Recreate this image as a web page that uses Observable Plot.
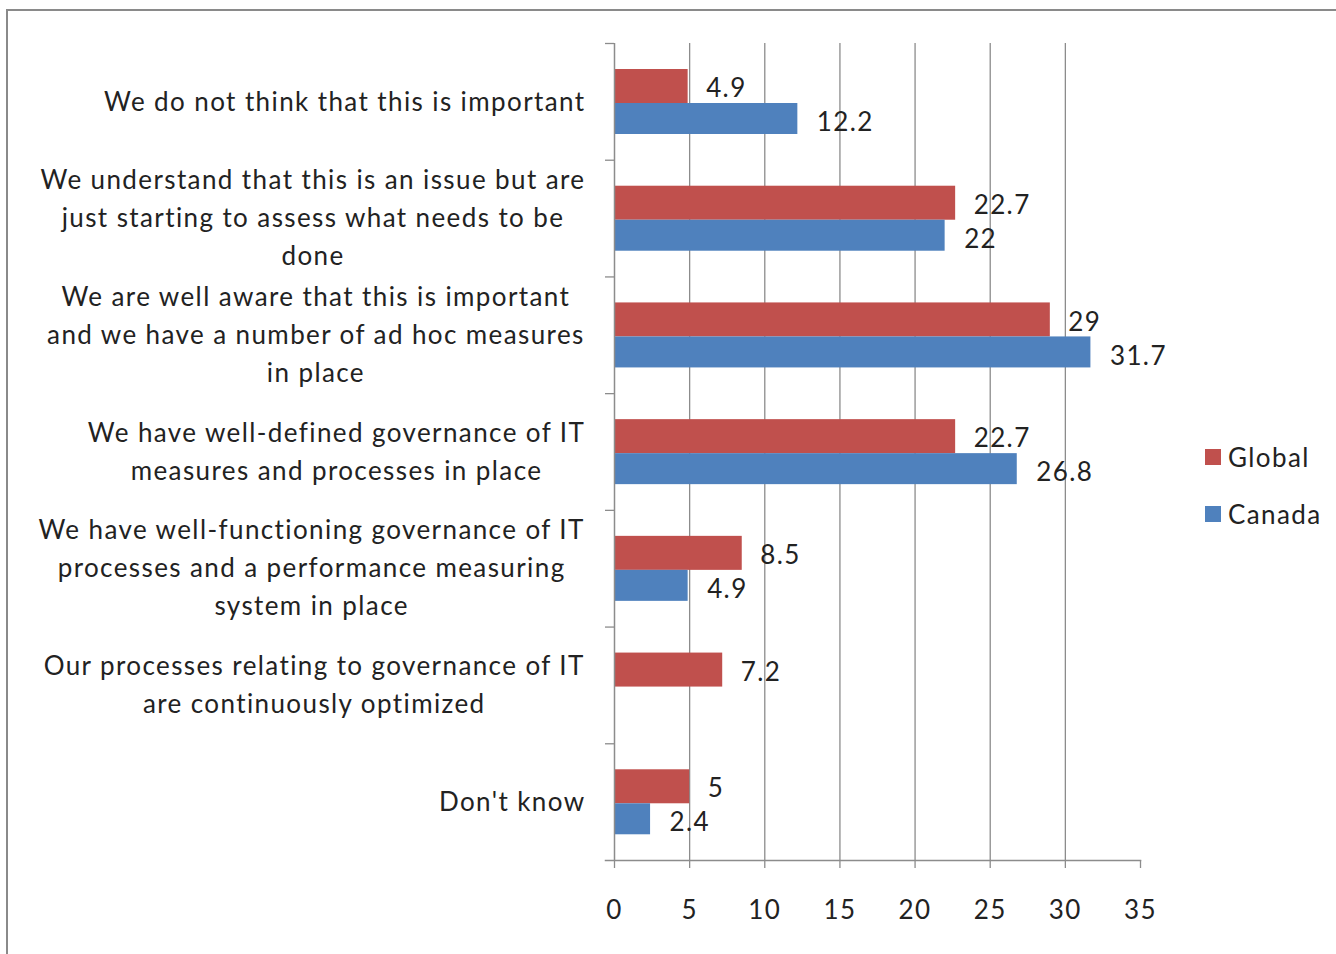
<!DOCTYPE html>
<html>
<head>
<meta charset="utf-8">
<script src="https://cdn.jsdelivr.net/npm/d3@7"></script>
<script src="https://cdn.jsdelivr.net/npm/@observablehq/plot@0.6"></script>
<style>
html, body { margin: 0; padding: 0; background: #fff; overflow: hidden; }
#wrap { position: relative; width: 1336px; height: 954px; overflow: hidden; }
#border { position: absolute; left: 6px; top: 9px; width: 1400px; height: 1000px;
  border-left: 2px solid #8a8a8a; border-top: 2px solid #8a8a8a; box-sizing: border-box; }
#chart { position: absolute; left: 0; top: 0; }
.legend-item { position: absolute; left: 1205px; height: 30px; display: flex; align-items: center;
  font: 26px Lato, sans-serif; letter-spacing: 1.4px; color: #222; }
.legend-item .sw { width: 16px; height: 16px; margin-right: 7px; }
</style>
</head>
<body>
<div id="wrap">
  <div id="border"></div>
  <div id="chart"></div>
</div>
<script>
const categories = [
  "We do not think that this is important",
  "We understand that this is an issue but are\njust starting to assess what needs to be\ndone",
  "We are well aware that this is important\nand we have a number of ad hoc measures\nin place",
  "We have well-defined governance of IT\nmeasures and processes in place",
  "We have well-functioning governance of IT\nprocesses and a performance measuring\nsystem in place",
  "Our processes relating to governance of IT\nare continuously optimized",
  "Don't know"
];
const globalValues = [4.9, 22.7, 29, 22.7, 8.5, 7.2, 5];
const canadaValues = [12.2, 22, 31.7, 26.8, 4.9, null, 2.4];
const xTicks = [0, 5, 10, 15, 20, 25, 30, 35];
const seriesNames = ["Global", "Canada"];
const seriesColors = ["#C0504D", "#4F81BD"];

const rows = categories.map((c, i) => ({ category: c, global: globalValues[i], canada: canadaValues[i] }));
const canadaRows = rows.filter(d => d.canada != null);

const W = 1336, H = 954, mL = 614, mR = 196, mT = 43, mB = 94;
const bw = (H - mT - mB) / categories.length;
const axisColor = "#8c8c8c";
const fs = 26;
const ls = 1.4;

const ctx = document.createElement("canvas").getContext("2d");
ctx.font = fs + "px Lato";
const labelMarks = categories.map(c => {
  const w = Math.max(...c.split("\n").map(l => ctx.measureText(l).width + l.length * ls));
  return Plot.text([c], {
    y: d => d, text: d => d, frameAnchor: "left", dx: -29 - w / 2, dy: -3.5,
    textAnchor: "middle", lineAnchor: "middle", lineHeight: 38 / fs, fontSize: fs, fill: "#222"
  });
});

const chart = Plot.plot({
  width: W, height: H,
  marginLeft: mL, marginRight: mR, marginTop: mT, marginBottom: mB,
  x: { domain: [0, 35], label: null },
  y: { domain: categories, padding: 0, round: false, label: null },
  style: { fontFamily: "Lato, sans-serif", fontSize: fs + "px", letterSpacing: ls + "px", color: "#222", background: "transparent" },
  marks: [
    Plot.gridX(xTicks.filter(t => t > 0 && t < 35), { stroke: axisColor, strokeOpacity: 1, strokeWidth: 1.3 }),
    Plot.barX(rows, { x: "global", y: "category", fill: seriesColors[0], insetTop: 26, insetBottom: bw - 60 }),
    Plot.barX(canadaRows, { x: "canada", y: "category", fill: seriesColors[1], insetTop: 60, insetBottom: bw - 91 }),
    Plot.text(rows, { x: "global", y: "category", text: d => String(d.global), dx: 18, dy: -13,
      textAnchor: "start", lineAnchor: "middle", fontSize: fs, fill: "#222" }),
    Plot.text(canadaRows, { x: "canada", y: "category", text: d => String(d.canada), dx: 19, dy: 21,
      textAnchor: "start", lineAnchor: "middle", fontSize: fs, fill: "#222" }),
    Plot.ruleX([0], { stroke: axisColor, strokeWidth: 1.5 }),
    Plot.frame({ anchor: "bottom", stroke: axisColor, strokeWidth: 1.5, insetLeft: -9 }),
    Plot.axisY({ tickSize: 9, tickFormat: () => "", dy: -bw / 2, stroke: axisColor, strokeWidth: 1.3, label: null }),
    Plot.axisX(xTicks, { tickSize: 8, tickPadding: 32, fontSize: fs, label: null, stroke: axisColor, strokeWidth: 1.3, fill: "#222" }),
    ...labelMarks
  ]
});
document.getElementById("chart").appendChild(chart);

const wrap = document.getElementById("wrap");
const legendCenters = [457, 514];
seriesNames.forEach((name, i) => {
  const item = document.createElement("div");
  item.className = "legend-item";
  item.style.top = (legendCenters[i] - 15) + "px";
  const sw = document.createElement("span");
  sw.className = "sw";
  sw.style.background = seriesColors[i];
  const t = document.createElement("span");
  t.textContent = name;
  item.appendChild(sw); item.appendChild(t);
  wrap.appendChild(item);
});
</script>
</body>
</html>
